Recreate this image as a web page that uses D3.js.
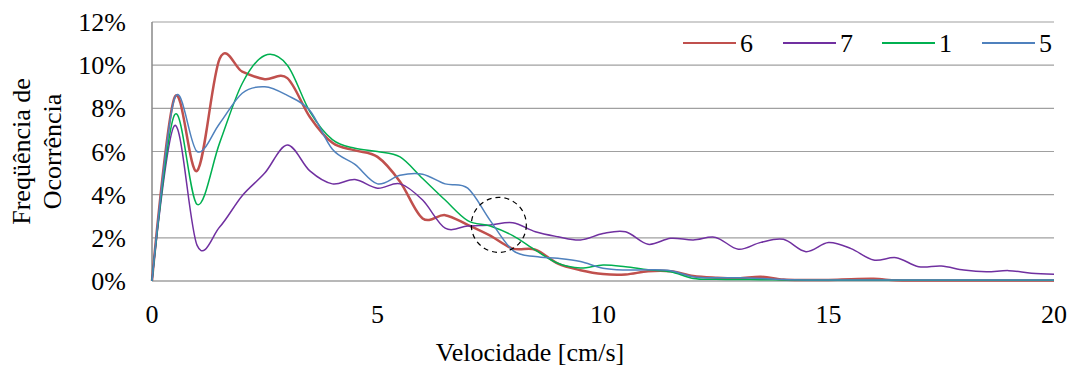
<!DOCTYPE html>
<html lang="pt">
<head>
    <meta charset="UTF-8">
    <title>Freqüência de Ocorrência</title>
    <script src="https://cdn.jsdelivr.net/npm/d3@7/dist/d3.min.js"></script>
    <style>
        body { margin: 0; background: #fff; }
        text { font-family: "Liberation Serif", "Times New Roman", serif; fill: #000; }
    </style>
</head>
<body>
<script>

    // velocidades (cm/s), passo 0.5
    var velocidade = d3.range(0, 20.001, 0.5);

    // frequencias (%)
    var serie6 = [0, 8.5, 5.1, 10.3, 9.7, 9.35, 9.4, 7.6, 6.4, 6.05, 5.75, 4.6, 2.9, 3.05, 2.6, 2.1, 1.5, 1.45, 0.8, 0.5,
        0.32, 0.3, 0.45, 0.45, 0.23, 0.15, 0.12, 0.2, 0.07, 0.05, 0.05, 0.08, 0.1, 0.03, 0.02, 0.02, 0.02, 0.02, 0.02, 0.02, 0.02];
    var serie7 = [0, 7.2, 1.65, 2.5, 3.95, 5.0, 6.3, 5.1, 4.5, 4.7, 4.3, 4.5, 3.75, 2.45, 2.55, 2.6, 2.7, 2.28, 2.05, 1.9,
        2.2, 2.28, 1.7, 1.98, 1.9, 2.02, 1.47, 1.79, 1.93, 1.36, 1.78, 1.5, 0.97, 1.08, 0.66, 0.69, 0.51, 0.43, 0.48, 0.36, 0.31];
    var serie1 = [0, 7.7, 3.55, 6.4, 9.15, 10.45, 10.0, 7.85, 6.55, 6.15, 6.0, 5.75, 4.75, 3.75, 2.8, 2.55, 2.1, 1.43, 0.82, 0.6,
        0.74, 0.66, 0.52, 0.43, 0.12, 0.08, 0.07, 0.06, 0.05, 0.04, 0.04, 0.04, 0.04, 0.04, 0.04, 0.04, 0.04, 0.04, 0.04, 0.04, 0.04];
    var serie5 = [0, 8.45, 6.0, 7.3, 8.7, 9.0, 8.6, 7.9, 6.1, 5.4, 4.5, 4.9, 4.95, 4.5, 4.3, 2.8, 1.42, 1.13, 1.05, 0.9,
        0.59, 0.51, 0.52, 0.48, 0.2, 0.15, 0.15, 0.12, 0.07, 0.05, 0.05, 0.05, 0.05, 0.05, 0.05, 0.05, 0.05, 0.05, 0.05, 0.05, 0.05];

    var nomes = ["6", "7", "1", "5"];
    var cores = ["#c0504d", "#7030a0", "#00b050", "#4f81bd"];
    var larguras = [2.5, 1.5, 1.5, 1.5];
    var series = [serie6, serie7, serie1, serie5];

    var xTicks = [0, 5, 10, 15, 20];
    var yTicks = [0, 2, 4, 6, 8, 10, 12];

    // circulo tracejado (destaque)
    var destaque = {v: 7.69, p: 2.6};
</script>

<script>
    // canvas
    var width = 1071;
    var height = 367;
    var svg = d3.select("body")
        .append("svg")
        .attr("width", width)
        .attr("height", height);

    // area do grafico ("top" e reservado no window)
    var plotL = 152, plotR = 1054, plotT = 22, plotB = 281;

    var x = d3.scaleLinear().domain([0, 20]).range([plotL, plotR]);
    var y = d3.scaleLinear().domain([0, 12]).range([plotB, plotT]);

    // grade horizontal
    svg.append("g")
        .selectAll("line")
        .data(yTicks)
        .enter()
        .append("line")
        .attr("x1", plotL)
        .attr("x2", plotR)
        .attr("y1", function (d) { return y(d); })
        .attr("y2", function (d) { return y(d); })
        .attr("stroke", "#a0a0a0")
        .attr("stroke-width", function (d) { return d === 0 ? 1.5 : 1.2; });

    // eixo vertical
    svg.append("line")
        .attr("x1", plotL).attr("x2", plotL)
        .attr("y1", plotT).attr("y2", plotB)
        .attr("stroke", "#888")
        .attr("stroke-width", 1.5);

    // rotulos do eixo y
    svg.append("g")
        .selectAll("text")
        .data(yTicks)
        .enter()
        .append("text")
        .attr("x", 126)
        .attr("y", function (d) { return y(d); })
        .attr("dy", "0.35em")
        .attr("text-anchor", "end")
        .style("font-size", "26px")
        .text(function (d) { return d + "%"; });

    // rotulos do eixo x
    svg.append("g")
        .selectAll("text")
        .data(xTicks)
        .enter()
        .append("text")
        .attr("x", function (d) { return x(d); })
        .attr("y", 323)
        .attr("text-anchor", "middle")
        .style("font-size", "26px")
        .text(function (d) { return d; });

    // titulos
    svg.append("text")
        .attr("x", 530)
        .attr("y", 361)
        .attr("text-anchor", "middle")
        .style("font-size", "26px")
        .text("Velocidade [cm/s]");

    var titY = svg.append("text")
        .attr("transform", "translate(30," + ((plotT + plotB) / 2) + ") rotate(-90)")
        .attr("text-anchor", "middle")
        .style("font-size", "26px");
    titY.append("tspan").attr("x", 0).attr("dy", 0).text("Freqüência de");
    titY.append("tspan").attr("x", 0).attr("dy", 31).text("Ocorrência");

    // linhas suavizadas
    var linha = d3.line()
        .x(function (d, i) { return x(velocidade[i]); })
        .y(function (d) { return y(d); })
        .curve(d3.curveCardinal.tension(0));

    svg.append("g")
        .selectAll("path")
        .data(series)
        .enter()
        .append("path")
        .attr("d", linha)
        .attr("fill", "none")
        .attr("stroke", function (d, i) { return cores[i]; })
        .attr("stroke-width", function (d, i) { return larguras[i]; });

    // circulo tracejado
    svg.append("circle")
        .attr("cx", x(destaque.v))
        .attr("cy", y(destaque.p))
        .attr("r", 27.5)
        .attr("fill", "none")
        .attr("stroke", "#000")
        .attr("stroke-width", 1.2)
        .attr("stroke-dasharray", "5,4");

    // legenda
    var legX = [683, 783, 882, 982];
    var leg = svg.append("g")
        .selectAll("g")
        .data(nomes)
        .enter()
        .append("g")
        .attr("transform", function (d, i) { return "translate(" + legX[i] + ",43)"; });

    leg.append("line")
        .attr("x1", 0).attr("x2", 53)
        .attr("y1", 0).attr("y2", 0)
        .attr("stroke", function (d, i) { return cores[i]; })
        .attr("stroke-width", 2);

    leg.append("text")
        .attr("x", 57)
        .attr("dy", "0.35em")
        .style("font-size", "26px")
        .text(function (d) { return d; });

</script>
</body>
</html>
